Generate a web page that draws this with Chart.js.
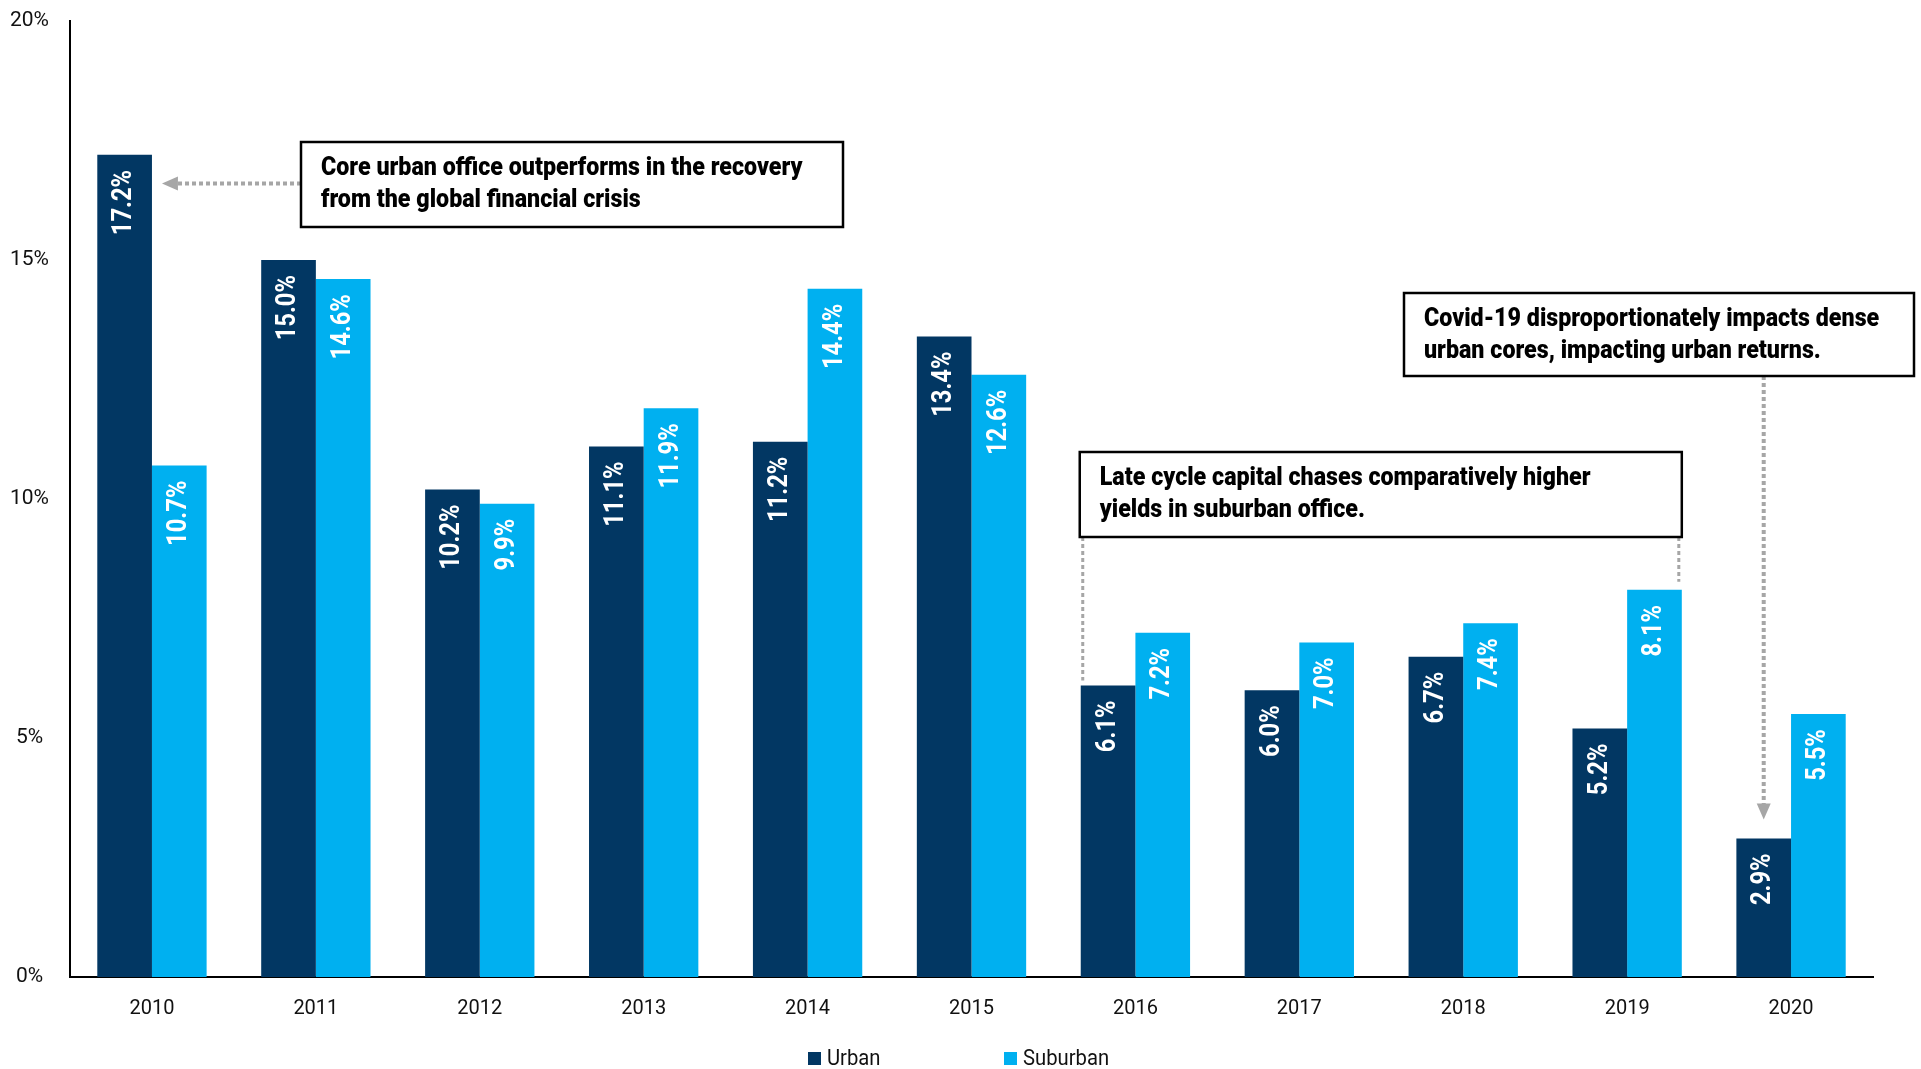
<!DOCTYPE html>
<html>
<head>
<meta charset="utf-8">
<script src="https://cdn.jsdelivr.net/npm/chart.js@4"></script>
<style>
  html, body { margin: 0; padding: 0; background: #fff; }
  canvas { display: block; }
</style>
</head>
<body>
<canvas id="myChart" width="1921" height="1069"></canvas>
<script>
// total returns by year, in %
const years = ["2010", "2011", "2012", "2013", "2014", "2015", "2016", "2017", "2018", "2019", "2020"];
const urban = [17.2, 15.0, 10.2, 11.1, 11.2, 13.4, 6.1, 6.0, 6.7, 5.2, 2.9];
const suburban = [10.7, 14.6, 9.9, 11.9, 14.4, 12.6, 7.2, 7.0, 7.4, 8.1, 5.5];
const yTicks = [0, 5, 10, 15, 20];

const noteGfc = ["Core urban office outperforms in the recovery", "from the global financial crisis"];
const noteLate = ["Late cycle capital chases comparatively higher", "yields in suburban office."];
const noteCovid = ["Covid-19 disproportionately impacts dense", "urban cores, impacting urban returns."];

const NAVY = "#023763";
const CYAN = "#00b0f0";
const GREY = "#a6a6a6";
const FONT = "Roboto, 'Liberation Sans', sans-serif";

// squeeze text horizontally so Roboto reads like a condensed face
function narrowText(ctx, text, x, y, ratio) {
  ctx.save();
  ctx.translate(x, y);
  ctx.scale(ratio, 1);
  ctx.fillText(text, 0, 0);
  ctx.restore();
}

function dotted(ctx, x1, y1, x2, y2, w) {
  ctx.save();
  ctx.strokeStyle = GREY;
  ctx.lineWidth = w;
  ctx.setLineDash([4, 3]);
  ctx.beginPath();
  ctx.moveTo(x1, y1);
  ctx.lineTo(x2, y2);
  ctx.stroke();
  ctx.restore();
}

function noteBox(ctx, lines, x, y, w, h) {
  ctx.save();
  ctx.fillStyle = "#fff";
  ctx.fillRect(x, y, w, h);
  ctx.strokeStyle = "#000";
  ctx.lineWidth = 2.5;
  ctx.strokeRect(x, y, w, h);
  ctx.fillStyle = "#000";
  ctx.font = "900 25px " + FONT;
  ctx.textAlign = "left";
  ctx.textBaseline = "middle";
  lines.forEach((t, i) => narrowText(ctx, t, x + 20, y + 27 + i * 32, 0.93));
  ctx.restore();
}

const barLabels = {
  id: "barLabels",
  afterDatasetsDraw(chart) {
    const ctx = chart.ctx;
    ctx.save();
    ctx.fillStyle = "#fff";
    ctx.font = "bold 27px " + FONT;
    ctx.textAlign = "right";
    ctx.textBaseline = "middle";
    chart.data.datasets.forEach((ds, di) => {
      chart.getDatasetMeta(di).data.forEach((bar, i) => {
        ctx.save();
        ctx.translate(bar.x, bar.y + 15);
        ctx.rotate(-Math.PI / 2);
        ctx.scale(0.88, 1);
        ctx.fillText(ds.data[i].toFixed(1) + "%", 0, 0);
        ctx.restore();
      });
    });
    ctx.restore();
  }
};

const notes = {
  id: "notes",
  afterDraw(chart) {
    const ctx = chart.ctx;
    const u = chart.getDatasetMeta(0).data;
    const s = chart.getDatasetMeta(1).data;
    const yScale = chart.scales.y;

    // GFC recovery: arrow pointing at the 2010 urban bar
    const ay = yScale.getPixelForValue(16.6);
    const tipX = u[0].x + u[0].width / 2 + 10;
    dotted(ctx, 301, ay, tipX + 14, ay, 4);
    ctx.fillStyle = GREY;
    ctx.beginPath();
    ctx.moveTo(tipX, ay);
    ctx.lineTo(tipX + 16, ay - 7);
    ctx.lineTo(tipX + 16, ay + 7);
    ctx.closePath();
    ctx.fill();
    noteBox(ctx, noteGfc, 301, 142, 542, 85);

    // late cycle: bracket from 2016 urban to 2019 suburban
    const lx = u[6].x - u[6].width / 2 + 2;
    const rx = s[9].x + s[9].width / 2 - 3;
    dotted(ctx, lx, 537, lx, u[6].y - 5, 3);
    dotted(ctx, rx, 537, rx, s[9].y - 8, 3);
    noteBox(ctx, noteLate, lx - 3, 452, rx - lx + 6, 85);

    // covid: arrow down onto the 2020 urban bar
    const cx = u[10].x;
    const tipY = u[10].y - 19;
    dotted(ctx, cx, 376, cx, tipY - 14, 4);
    ctx.fillStyle = GREY;
    ctx.beginPath();
    ctx.moveTo(cx, tipY);
    ctx.lineTo(cx - 7, tipY - 16);
    ctx.lineTo(cx + 7, tipY - 16);
    ctx.closePath();
    ctx.fill();
    noteBox(ctx, noteCovid, 1404, 293, 510, 83);

    // legend
    ctx.save();
    ctx.font = "22px " + FONT;
    ctx.textAlign = "left";
    ctx.textBaseline = "middle";
    const legendX = [808, 1004];
    chart.data.datasets.forEach((ds, i) => {
      ctx.fillStyle = ds.backgroundColor;
      ctx.fillRect(legendX[i], 1052, 13, 13);
      ctx.fillStyle = "#111";
      narrowText(ctx, ds.label, legendX[i] + 19, 1059, 0.92);
    });
    ctx.restore();
  }
};

const ctx = document.getElementById("myChart").getContext("2d");
const myChart = new Chart(ctx, {
  type: "bar",
  data: {
    labels: years,
    datasets: [
      { label: "Urban", data: urban, backgroundColor: NAVY },
      { label: "Suburban", data: suburban, backgroundColor: CYAN }
    ]
  },
  options: {
    responsive: false,
    animation: false,
    devicePixelRatio: 1,
    layout: { padding: { top: 21, right: 48, left: 0, bottom: 0 } },
    datasets: { bar: { categoryPercentage: 0.667, barPercentage: 1.0 } },
    plugins: { legend: { display: false }, tooltip: { enabled: false } },
    scales: {
      x: {
        grid: { display: false, drawTicks: false },
        border: { display: true, color: "#000", width: 2 },
        ticks: { color: "#111", font: { family: FONT, size: 20 }, padding: 20 },
        afterFit(scale) { scale.height = 92; }
      },
      y: {
        min: 0,
        max: 20,
        grid: { display: false, drawTicks: false },
        border: { display: true, color: "#000", width: 2 },
        afterBuildTicks(scale) { scale.ticks = yTicks.map(v => ({ value: v })); },
        ticks: {
          color: "#111",
          font: { family: FONT, size: 21 },
          crossAlign: "center",
          padding: 21,
          callback: v => v + "%"
        },
        afterFit(scale) {
          scale.width = 70;
          scale.paddingTop = 0;
          scale.paddingBottom = 0;
        }
      }
    }
  },
  plugins: [barLabels, notes]
});
</script>
</body>
</html>
